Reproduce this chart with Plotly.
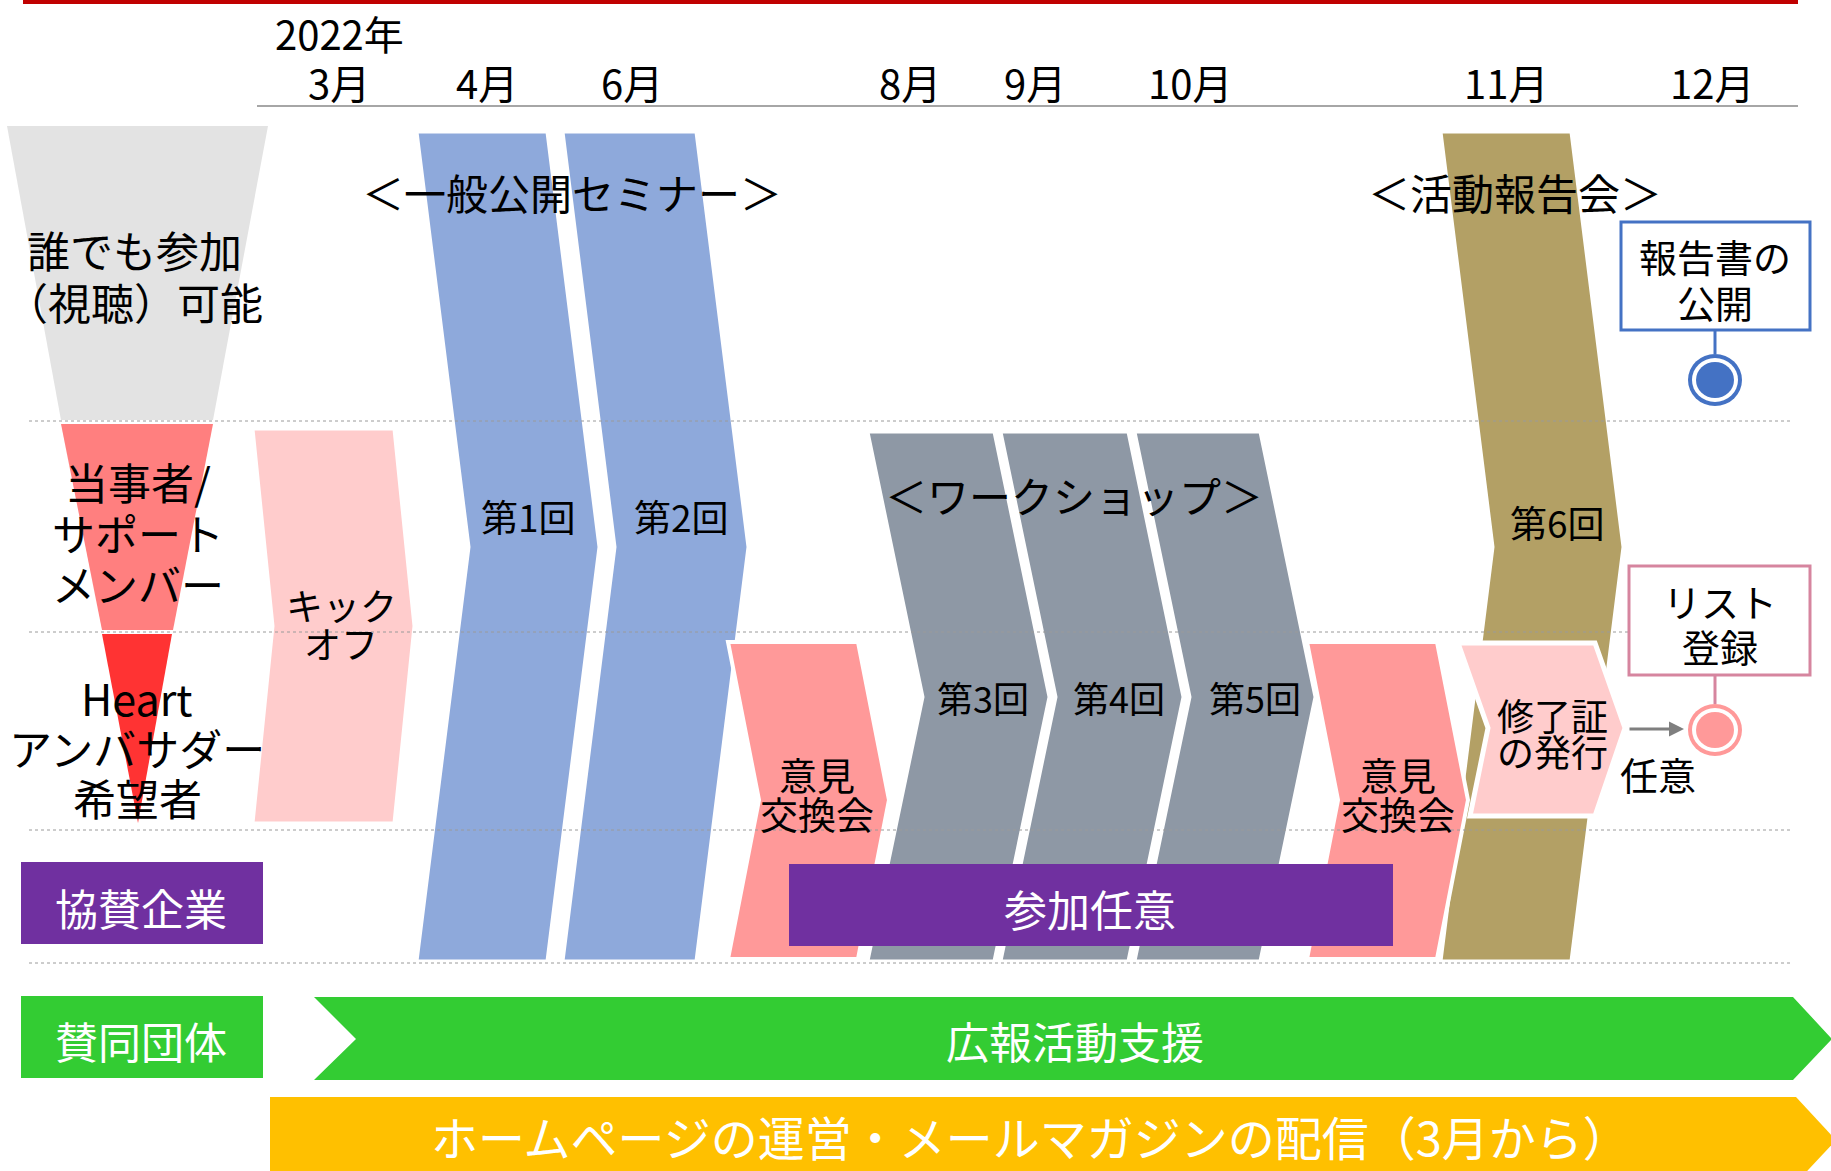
import plotly.graph_objects as go

W, H = 1831, 1171
FONT = "Noto Sans CJK JP, Noto Sans CJK SC, sans-serif"

# ---------------- data (labels) ----------------
year_label = "2022年"
months = ["3月", "4月", "6月", "8月", "9月", "10月", "11月", "12月"]
row_labels = [["誰でも参加", "（視聴）可能"], ["当事者/", "サポート", "メンバー"], ["Heart", "アンバサダー", "希望者"]]
seminar_title = "＜一般公開セミナー＞"
seminar_sessions = ["第1回", "第2回"]
workshop_title = "＜ワークショップ＞"
workshop_sessions = ["第3回", "第4回", "第5回"]
report_title = "＜活動報告会＞"
report_sessions = ["第6回"]
kickoff_label = ["キック", "オフ"]
exchange_label = ["意見", "交換会"]
certificate_label = ["修了証", "の発行"]
report_pub_label = ["報告書の", "公開"]
list_label = ["リスト", "登録"]
optional_label = "任意"
sponsor_label = "協賛企業"
sponsor_note = "参加任意"
supporter_label = "賛同団体"
supporter_note = "広報活動支援"
web_note = "ホームページの運営・メールマガジンの配信（3月から）"

# ---------------- layout geometry (pixels) ----------------
month_x = [339, 487, 632, 910, 1035, 1190, 1506, 1712]
seminar_x = [(417, 547), (563, 696)]
workshop_x = [(868, 994), (1001, 1128), (1135, 1260)]
report_x = [(1441, 1571)]
exchange_x = [(728, 858), (1307, 1437)]

# colours
C_BLUE = "#8EA9DB"
C_GRAY = "#8E98A5"
C_PINK = "#FF9999"
C_LPINK = "#FFCCCC"
C_TAN = "#B3A065"
C_PURPLE = "#7030A0"
C_GREEN = "#33CC33"
C_YELLOW = "#FFC000"

shapes = []
annotations = []


def path(pts):
    return "M " + " L ".join(f"{x},{y}" for x, y in pts) + " Z"


def chevron(x0, x1, y0, y1, d, color, notch=True, lw=3, ym=None):
    if ym is None:
        ym = (y0 + y1) / 2
    pts = [(x0, y0), (x1, y0), (x1 + d, ym), (x1, y1), (x0, y1)]
    if notch:
        pts.append((x0 + d, ym))
    shapes.append(dict(type="path", path=path(pts), fillcolor=color,
                       line=dict(color="white", width=lw), layer="below",
                       xref="x", yref="y"))


def text(x, y, s, size=38, color="black", **kw):
    annotations.append(dict(x=x, y=y, text=s, showarrow=False, xref="x", yref="y",
                            font=dict(family=FONT, size=size, color=color),
                            xanchor="center", yanchor="middle", **kw))


def lines(x, y_first, items, step, size=38, color="black"):
    for i, s in enumerate(items):
        text(x, y_first + i * step, s, size=size, color=color)


# top red line and axis line
shapes.append(dict(type="line", x0=23, x1=1798, y0=2, y1=2, line=dict(color="#C00000", width=4), xref="x", yref="y"))
shapes.append(dict(type="line", x0=257, x1=1798, y0=106, y1=106, line=dict(color="#A6A6A6", width=2), xref="x", yref="y"))

# funnel
shapes.append(dict(type="path", path=path([(7, 126), (268, 126), (213, 420), (61, 420)]),
                   fillcolor="#E3E3E3", line=dict(width=0), layer="below", xref="x", yref="y"))
shapes.append(dict(type="path", path=path([(61, 424), (213, 424), (173, 630), (102, 630)]),
                   fillcolor="#FF7F7F", line=dict(width=0), layer="below", xref="x", yref="y"))
shapes.append(dict(type="path", path=path([(102, 634), (172, 634), (138, 823)]),
                   fillcolor="#FF3333", line=dict(width=0), layer="below", xref="x", yref="y"))

# kickoff
chevron(253, 394, 429, 823, 20, C_LPINK)
# seminars
for (a, b) in seminar_x:
    chevron(a, b, 132, 961, 52, C_BLUE, ym=547)
# exchange 1
chevron(exchange_x[0][0], exchange_x[0][1], 642, 959, 31, C_PINK, lw=4, ym=800)
# workshops
for (a, b) in workshop_x:
    chevron(a, b, 432, 961, 55, C_GRAY, ym=697)
# report meeting
for (a, b) in report_x:
    chevron(a, b, 132, 961, 52, C_TAN, ym=547)
# exchange 2
chevron(exchange_x[1][0], exchange_x[1][1], 642, 959, 31, C_PINK, lw=4, ym=800)
# certificate
shapes.append(dict(type="path", path=path([(1458, 643), (1595, 643), (1625, 728), (1595, 816), (1470, 816), (1488, 728)]),
                   fillcolor=C_LPINK, line=dict(color="white", width=5), layer="below", xref="x", yref="y"))

# dotted separators
for yy in [421, 632, 830, 963]:
    shapes.append(dict(type="line", x0=29, x1=1790, y0=yy, y1=yy,
                       line=dict(color="#9A9A9A", width=1, dash="dot"), xref="x", yref="y"))

# sponsor boxes
shapes.append(dict(type="rect", x0=21, x1=263, y0=862, y1=944, fillcolor=C_PURPLE, line=dict(width=0), xref="x", yref="y"))
shapes.append(dict(type="rect", x0=789, x1=1393, y0=864, y1=946, fillcolor=C_PURPLE, line=dict(width=0), xref="x", yref="y"))
shapes.append(dict(type="rect", x0=21, x1=263, y0=996, y1=1078, fillcolor=C_GREEN, line=dict(width=0), xref="x", yref="y"))
shapes.append(dict(type="path", path=path([(314, 997), (1793, 997), (1832, 1039), (1793, 1080), (314, 1080), (356, 1039)]),
                   fillcolor=C_GREEN, line=dict(width=0), xref="x", yref="y"))
shapes.append(dict(type="path", path=path([(270, 1097), (1796, 1097), (1836, 1140), (1796, 1183), (270, 1183)]),
                   fillcolor=C_YELLOW, line=dict(width=0), xref="x", yref="y"))

# callout boxes and markers
shapes.append(dict(type="rect", x0=1621, x1=1810, y0=222, y1=330, fillcolor="white",
                   line=dict(color="#4472C4", width=3), xref="x", yref="y"))
shapes.append(dict(type="line", x0=1715, x1=1715, y0=330, y1=354, line=dict(color="#4472C4", width=3), xref="x", yref="y"))
shapes.append(dict(type="circle", x0=1715 - 27, x1=1715 + 27, y0=380 - 26, y1=380 + 26, fillcolor="#4472C4", line=dict(width=0), xref="x", yref="y"))
shapes.append(dict(type="circle", x0=1715 - 23, x1=1715 + 23, y0=380 - 22, y1=380 + 22, fillcolor="white", line=dict(width=0), xref="x", yref="y"))
shapes.append(dict(type="circle", x0=1715 - 19, x1=1715 + 19, y0=380 - 18, y1=380 + 18, fillcolor="#4472C4", line=dict(width=0), xref="x", yref="y"))

shapes.append(dict(type="rect", x0=1629, x1=1810, y0=566, y1=675, fillcolor="white",
                   line=dict(color="#D6859F", width=3), xref="x", yref="y"))
shapes.append(dict(type="line", x0=1715, x1=1715, y0=675, y1=704, line=dict(color="#D6859F", width=3), xref="x", yref="y"))
shapes.append(dict(type="circle", x0=1715 - 27, x1=1715 + 27, y0=730 - 26, y1=730 + 26, fillcolor="#FF9999", line=dict(width=0), xref="x", yref="y"))
shapes.append(dict(type="circle", x0=1715 - 23, x1=1715 + 23, y0=730 - 22, y1=730 + 22, fillcolor="white", line=dict(width=0), xref="x", yref="y"))
shapes.append(dict(type="circle", x0=1715 - 19, x1=1715 + 19, y0=730 - 18, y1=730 + 18, fillcolor="#FF9999", line=dict(width=0), xref="x", yref="y"))

# arrow
annotations.append(dict(x=1684, y=729, ax=1628, ay=729, xref="x", yref="y", axref="x", ayref="y",
                        showarrow=True, arrowhead=2, arrowsize=1, arrowwidth=3, arrowcolor="#7F7F7F", text=""))

# ---------------- texts ----------------
text(339, 33, year_label, size=40)
for m, mx in zip(months, month_x):
    text(mx, 82, m, size=40)

lines(134, 249, row_labels[0], 52, size=43)
lines(138, 481, row_labels[1], 51, size=43)
lines(137, 697, row_labels[2], 50, size=43)

text(572, 191, seminar_title, size=42)
text(528, 516, seminar_sessions[0], size=37)
text(681, 516, seminar_sessions[1], size=37)
text(1074, 494, workshop_title, size=42)
for s, xc in zip(workshop_sessions, [983, 1119, 1255]):
    text(xc, 697, s, size=36)
text(1515, 191, report_title, size=42)
text(1557, 522, report_sessions[0], size=37)

lines(341, 605, kickoff_label, 38, size=37)
lines(817, 773, exchange_label, 39, size=38)
lines(1398, 773, exchange_label, 39, size=38)
lines(1552, 715, certificate_label, 36, size=37)
lines(1715, 255, report_pub_label, 46, size=38)
lines(1720, 600, list_label, 45, size=38)
text(1658, 773, optional_label, size=38)

text(141, 907, sponsor_label, size=43, color="white")
text(1090, 908, sponsor_note, size=43, color="white")
text(141, 1040, supporter_label, size=43, color="white")
text(1075, 1040, supporter_note, size=43, color="white")
text(1030, 1135, web_note, size=47, color="white")

fig = go.Figure()
fig.update_layout(
    width=W, height=H,
    margin=dict(l=0, r=0, t=0, b=0),
    paper_bgcolor="white", plot_bgcolor="white",
    xaxis=dict(range=[0, W], visible=False, fixedrange=True),
    yaxis=dict(range=[H, 0], visible=False, fixedrange=True),
    shapes=shapes, annotations=annotations, showlegend=False,
)
fig.write_html("out.html")
